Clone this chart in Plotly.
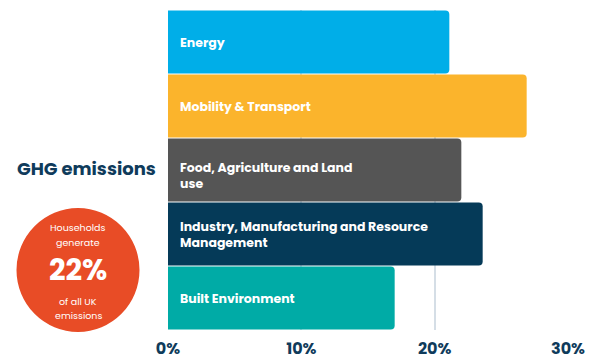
import plotly.graph_objects as go

categories = ["Energy", "Mobility & Transport", "Food, Agriculture and Land<br>use",
              "Industry, Manufacturing and Resource<br>Management", "Built Environment"]
values = [21.1, 26.9, 22.0, 23.6, 17.0]
colors = ["#00AEE8", "#FBB42C", "#555555", "#053A58", "#00ABA6"]
tick_vals = [0, 10, 20, 30]
tick_text = ["0%", "10%", "20%", "30%"]
badge_lines = ["Households", "generate", "22%", "of all UK", "emissions"]

# layout tweaks (pixel offsets of the bar labels)
label_yshift = [0, 0, -5, 0, 0]

NAVY = "#0F3B5B"
FONT = "Poppins, Inter, Lato, sans-serif"

fig = go.Figure()
fig.add_trace(go.Bar(
    x=values, y=categories, orientation="h",
    marker=dict(color=colors, line=dict(width=0), cornerradius=4),
    hoverinfo="skip",
))

for c, ys in zip(categories, label_yshift):
    fig.add_annotation(x=0, y=c, xref="x", yref="y", text=c, showarrow=False,
                       xanchor="left", xshift=10, yshift=ys, align="left",
                       font=dict(family=FONT, size=12.5, color="white", weight="bold"))

fig.add_annotation(x=-0.205, y=0.506, xref="paper", yref="paper", text="GHG emissions",
                   showarrow=False, xanchor="center", yanchor="middle",
                   font=dict(family=FONT, size=18, color=NAVY, weight="bold"))

# circle badge
CX, CY = -0.225, 0.1875
fig.add_shape(type="circle", xref="paper", yref="paper",
              xsizemode="pixel", ysizemode="pixel",
              xanchor=CX, yanchor=CY,
              x0=-61.5, x1=61.5, y0=-62, y1=62,
              fillcolor="#E84C26", line=dict(width=0), layer="above")

badge_pos = [42.5, 27.5, 0, -31.5, -45.5]
badge_size = [9.5, 9.5, 29, 9.5, 9.5]
badge_weight = ["normal", "normal", "bold", "normal", "normal"]
for t, dy, sz, w in zip(badge_lines, badge_pos, badge_size, badge_weight):
    fig.add_annotation(x=CX, y=CY + dy / 320, xref="paper", yref="paper", text=t,
                       showarrow=False, xanchor="center", yanchor="middle",
                       font=dict(family=FONT, size=sz, color="white", weight=w))

fig.update_layout(
    width=600, height=360,
    margin=dict(l=160, r=40, t=2, b=38, autoexpand=False),
    paper_bgcolor="white", plot_bgcolor="white",
    bargap=0.015, showlegend=False,
    xaxis=dict(range=[0, 30], tickvals=tick_vals, ticktext=tick_text,
               showgrid=True, gridcolor="#D5DEE6", gridwidth=1.5,
               zeroline=False, showline=False, ticks="", automargin=False,
               tickfont=dict(family=FONT, size=16, color=NAVY, weight="bold"),
               ticklabelstandoff=7, fixedrange=True),
    yaxis=dict(autorange="reversed", showticklabels=False, showgrid=False,
               zeroline=False, showline=False, fixedrange=True, automargin=False),
)

fig.write_html("out.html")
